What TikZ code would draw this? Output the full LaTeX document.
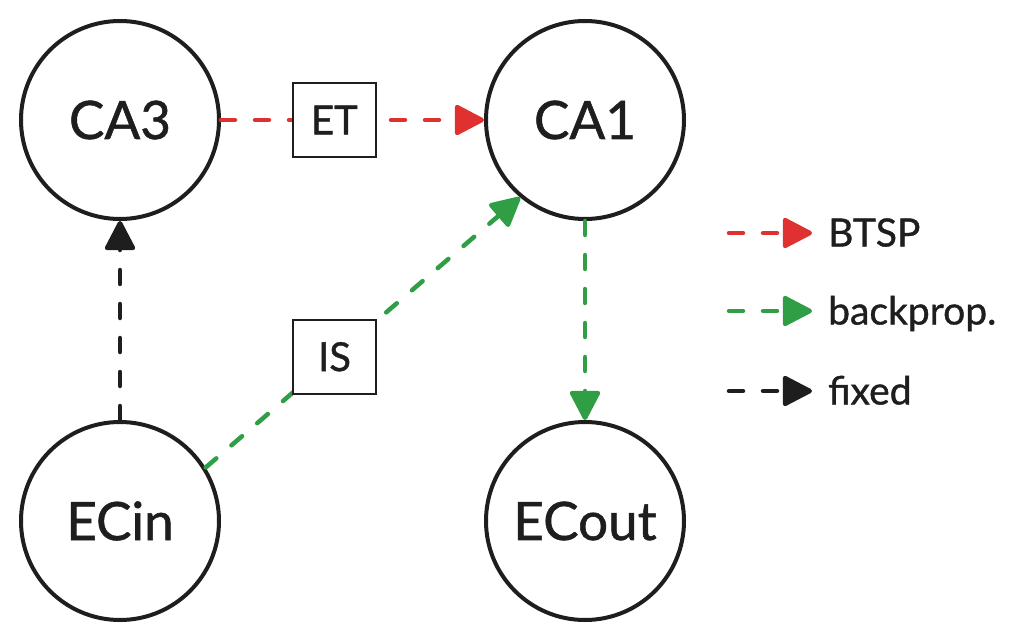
\documentclass[tikz,border=0pt]{standalone}
\usepackage{fontspec}
\setmainfont{Lato}[FakeBold=1]
\usetikzlibrary{arrows.meta}

\newlength{\du}
\setlength{\du}{1pt}

\definecolor{btspcolor}{rgb}{0.878000, 0.192000, 0.192000}
\definecolor{bpcolor}{rgb}{0.184000, 0.620000, 0.267000}
\definecolor{fixcolor}{rgb}{0.118000, 0.118000, 0.118000}

\tikzset{
  area/.style={circle, draw=fixcolor, line width=4\du, minimum size=198\du, inner sep=0pt,
    text=fixcolor, font=\fontsize{53}{60}\selectfont},
  tagbox/.style={rectangle, draw=fixcolor, fill=white, solid, line width=2\du,
    minimum width=83\du, minimum height=74\du, inner sep=0pt,
    text=fixcolor, font=\fontsize{40}{46}\selectfont},
  legtext/.style={anchor=west, inner xsep=16\du, inner ysep=0pt, text height=27\du, text depth=0pt,
    text=fixcolor, font=\fontsize{39}{45}\selectfont},
  link/.style={line width=4.5\du, dash pattern=on 14\du off 20\du, line cap=round,
    -{Triangle[length=32pt,width=32pt,round]}},
  btsp/.style={link, draw=btspcolor},
  backprop/.style={link, draw=bpcolor},
  fixed/.style={link, draw=fixcolor}
}

\begin{document}
\begin{tikzpicture}
\pgftransformyscale{-1.000000}
\useasboundingbox (0\du,0\du) rectangle (1023\du,642\du);
% areas
\node[area] (CA3) at (120\du,120\du){CA3};
\node[area] (CA1) at (585\du,120\du){CA1};
\node[area] (ECin) at (120\du,521\du){ECin};
\node[area] (ECout) at (585\du,521\du){ECout};
% connections
\draw[btsp] (CA3) -- node[tagbox,pos=0.431] (ET){ET} (CA1);
\draw[backprop] (ECin.32) -- node[tagbox,pos=0.41] (IS){IS} (CA1.230);
\draw[backprop] (CA1) -- (ECout);
\draw[fixed] (ECin) -- (CA3);
% legend
\node[legtext] (BTSP) at (812\du,233\du){BTSP};
\node[legtext] (BP) at (812\du,311\du){backprop.};
\node[legtext] (FIX) at (812\du,391\du){fixed};
\coordinate (lgBTSP) at (729\du,233\du);
\coordinate (lgBP) at (729\du,311\du);
\coordinate (lgFIX) at (729\du,391\du);
\draw[btsp] (lgBTSP) -- (BTSP.west);
\draw[backprop] (lgBP) -- (BP.west);
\draw[fixed] (lgFIX) -- (FIX.west);
\end{tikzpicture}
\end{document}
